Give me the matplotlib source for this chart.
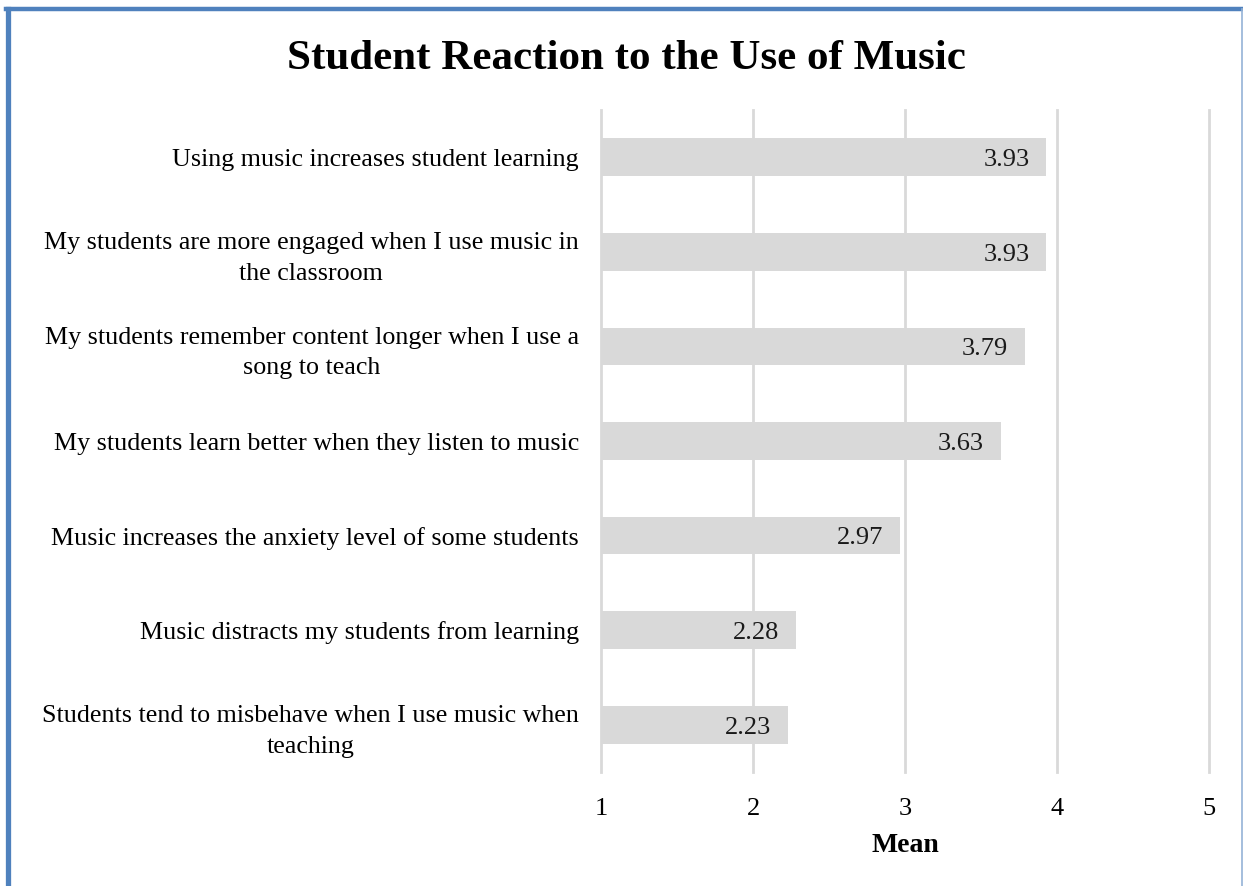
import matplotlib.pyplot as plt
from matplotlib.lines import Line2D

statements = [
    "Using music increases student learning",
    "My students are more engaged when I use music in\nthe classroom",
    "My students remember content longer when I use a\nsong to teach",
    "My students learn better when they listen to music",
    "Music increases the anxiety level of some students",
    "Music distracts my students from learning",
    "Students tend to misbehave when I use music when\nteaching",
]
means = [3.93, 3.93, 3.79, 3.63, 2.97, 2.28, 2.23]
xticks = [1, 2, 3, 4, 5]

plt.rcParams['font.family'] = ['Liberation Serif', 'DejaVu Serif']

fig = plt.figure(figsize=(12.43, 8.86), dpi=100)
ax = fig.add_axes([0.4835, 0.1287, 0.4892, 0.7471])

ypos = list(range(len(statements)))
ax.barh(ypos, [m - 1 for m in means], left=1, height=0.40,
        color='#d9d9d9', zorder=2)
for y, m in zip(ypos, means):
    ax.text(m - 0.11, y + 0.03, f"{m:.2f}", ha='right', va='center',
            fontsize=19, color='#1a1a1a', zorder=3)

ax.set_xlim(1, 5)
ax.set_ylim(len(statements) - 0.5, -0.5)
ax.set_xticks(xticks)
ax.set_xticklabels([str(t) for t in xticks], fontsize=19)
ax.set_yticks(ypos)
ax.set_yticklabels(statements, fontsize=18.7, multialignment='center',
                   linespacing=1.5)
ax.tick_params(axis='both', length=0)
ax.tick_params(axis='x', pad=19)
ax.tick_params(axis='y', pad=16)
ax.grid(axis='x', color='#d9d9d9', linewidth=2, zorder=1)
for gl in ax.get_xgridlines():
    gl.set_clip_on(False)
for s in ax.spines.values():
    s.set_visible(False)
ax.set_xlabel("Mean", fontsize=20, fontweight='bold', labelpad=9)

fig.text(0.504, 0.922, "Student Reaction to the Use of Music",
         ha='center', va='baseline', fontsize=31, fontweight='bold')

# blue frame around the chart area
fig.add_artist(Line2D([0.0068, 0.0068], [0, 0.9898], transform=fig.transFigure,
                      color='#4f81bd', linewidth=3.8))
fig.add_artist(Line2D([0.005, 0.9992], [0.9898, 0.9898], transform=fig.transFigure,
                      color='#4f81bd', linewidth=3.2))
fig.add_artist(Line2D([0.9992, 0.9992], [0, 0.9898], transform=fig.transFigure,
                      color='#95b3d7', linewidth=1.2))

fig.savefig("out.png", dpi=100)
